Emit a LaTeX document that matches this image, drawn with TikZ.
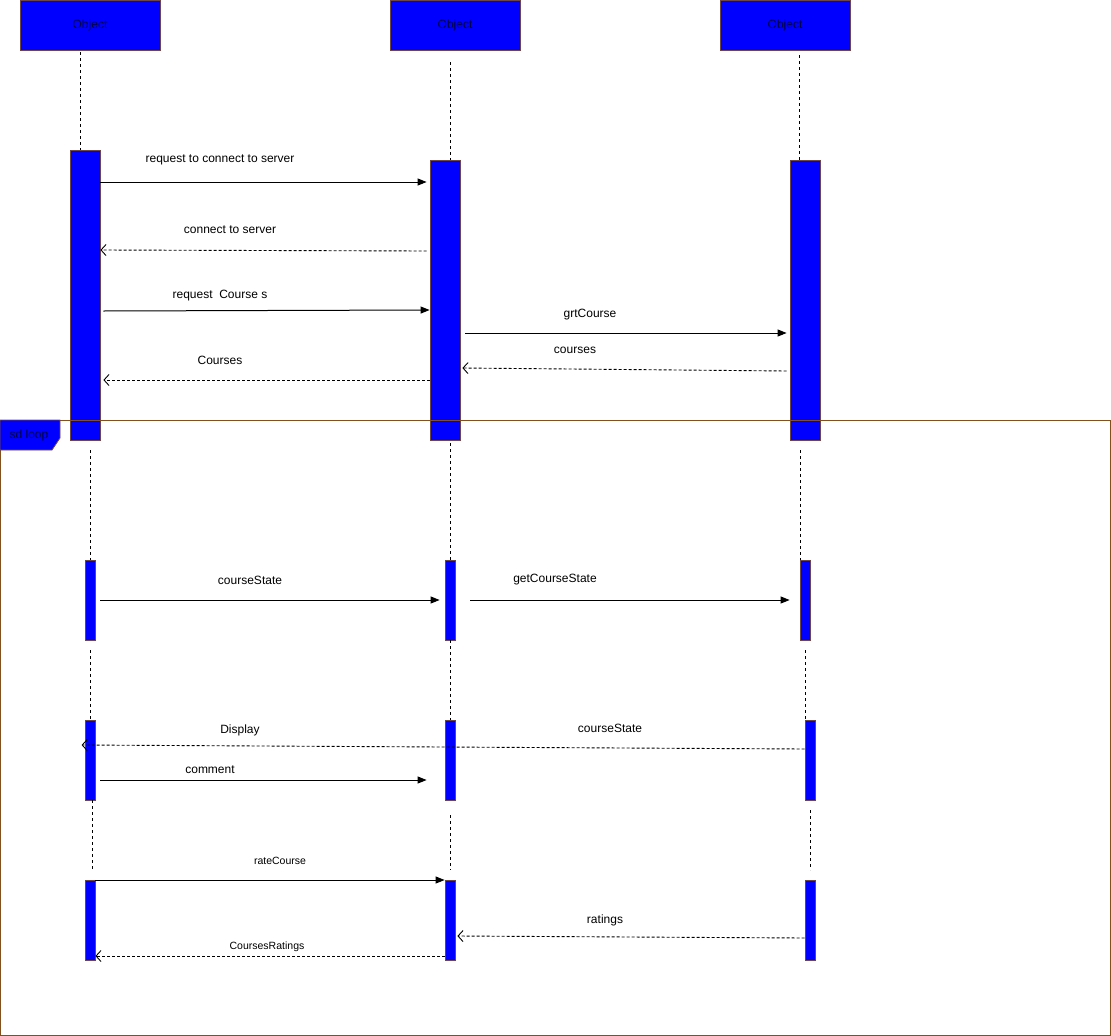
\documentclass[tikz,border=0pt]{standalone}
\usepackage{fontspec}
\setmainfont{Liberation Sans}
\usetikzlibrary{arrows.meta}
\definecolor{objblue}{RGB}{0,0,255}
\definecolor{objedge}{RGB}{110,70,70}
\definecolor{frameedge}{RGB}{130,80,30}
\definecolor{objtext}{RGB}{0,0,70}
\tikzset{
  obj/.style={draw=objedge, fill=objblue, line width=0.8pt, text=objtext, font=\fontsize{12}{14}\selectfont, inner sep=0pt},
  bar/.style={draw=objedge, fill=objblue, line width=0.8pt, inner sep=0pt},
  life/.style={line width=0.9pt, dash pattern=on 3pt off 3pt},
  call/.style={line width=1pt, -{Triangle[length=9pt,width=7pt]}},
  reply/.style={line width=0.9pt, dash pattern=on 3pt off 2pt, -{Straight Barb[length=5pt,width=11pt]}},
  lbl/.style={font=\fontsize{12}{14}\selectfont, inner sep=0pt},
  slbl/.style={font=\fontsize{10.5}{12}\selectfont, inner sep=0pt},
}
\begin{document}
\begin{tikzpicture}[x=1pt,y=-1pt]
\useasboundingbox (0,0) rectangle (1111,1036);

% object heads
\node[obj, minimum width=140pt, minimum height=50pt] (o1) at (90,25) {Object};
\node[obj, minimum width=130pt, minimum height=50pt] (o2) at (455,25) {Object};
\node[obj, minimum width=130pt, minimum height=50pt] (o3) at (785,25) {Object};

% upper activation bars
\node[bar, minimum width=30pt, minimum height=290pt] (a1) at (85,295) {};
\node[bar, minimum width=30pt, minimum height=280pt] (a2) at (445,300) {};
\node[bar, minimum width=30pt, minimum height=280pt] (a3) at (805,300) {};

% lifelines above the bars
\coordinate (l1t) at (80,52);
\coordinate (l2t) at (450,62);
\coordinate (l3t) at (799,55);
\draw[life] (l1t) -- (l1t |- a1.north);
\draw[life] (l2t) -- (l2t |- a2.north);
\draw[life] (l3t) -- (l3t |- a3.north);

% loop frame
\draw[frameedge, line width=0.8pt] (0,420) rectangle (1110,1035);
\draw[frameedge, fill=objblue, line width=0.8pt] (0,420) -- (60,420) -- (60,438) -- (52,450) -- (0,450) -- cycle;
\node[lbl, text=objtext] (sd) at (29,435) {sd loop};

% lower activation bars
\node[bar, minimum width=10pt, minimum height=80pt] (b1) at (90,600) {};
\node[bar, minimum width=10pt, minimum height=80pt] (b2) at (450,600) {};
\node[bar, minimum width=10pt, minimum height=80pt] (b3) at (805,600) {};
\node[bar, minimum width=10pt, minimum height=80pt] (c1) at (90,760) {};
\node[bar, minimum width=10pt, minimum height=80pt] (c2) at (450,760) {};
\node[bar, minimum width=10pt, minimum height=80pt] (c3) at (810,760) {};
\node[bar, minimum width=10pt, minimum height=80pt] (d1) at (90,920) {};
\node[bar, minimum width=10pt, minimum height=80pt] (d2) at (450,920) {};
\node[bar, minimum width=10pt, minimum height=80pt] (d3) at (810,920) {};

% lifeline segments between the bars
\draw[life] (90,450) -- (b1.north);
\draw[life] (450,443) -- (b2.north);
\draw[life] (800,450) -- (800,560);
\draw[life] (90,650) -- (c1.north);
\draw[life] (450,640) -- (c2.north);
\draw[life] (805,650) -- (805,720);
\draw[life] (92,800) -- (92,870);
\draw[life] (450,815) -- (450,870);
\draw[life] (810,810) -- (810,870);

% messages before the loop
\draw[call]  (a1.east |- 0,182) -- ([xshift=-3pt]a2.west |- 0,182);
\node[lbl] (m1) at (220,160) {request to connect to server};
\draw[reply] ([xshift=-3pt]a2.west |- 0,251) -- (a1.east |- 0,250);
\node[lbl] (m2) at (230,230) {connect to server};
\draw[call]  ([xshift=3pt]a1.east |- 0,311) -- (a2.west |- 0,310);
\node[lbl] (m3) at (220,296) {request\ \ Course s};
\draw[call]  ([xshift=5pt]a2.east |- 0,333) -- ([xshift=-3pt]a3.west |- 0,333);
\node[lbl] (m4) at (590,315) {grtCourse};
\draw[reply] ([xshift=-3pt]a3.west |- 0,371) -- ([xshift=2pt]a2.east |- 0,368);
\node[lbl] (m5) at (575,350) {courses};
\draw[reply] (a2.west |- 0,380) -- ([xshift=3pt]a1.east |- 0,380);
\node[lbl] (m6) at (220,360) {Courses};

% messages inside the loop
\draw[call]  ([xshift=5pt]b1.east |- 0,600) -- ([xshift=-5pt]b2.west |- 0,600);
\node[lbl] (m7) at (250,580) {courseState};
\draw[call]  ([xshift=15pt]b2.east |- 0,600) -- ([xshift=-10pt]b3.west |- 0,600);
\node[lbl] (m8) at (555,580) {getCourseState};
\draw[reply] (c3.west |- 0,749) -- ([xshift=-3pt]c1.west |- 0,745);
\node[lbl] (m9) at (240,730) {Display};
\node[lbl] (m10) at (610,728) {courseState};
\draw[call]  ([xshift=5pt]c1.east |- 0,780) -- ([xshift=-18pt]c2.west |- 0,780);
\node[lbl] (m11) at (210,770) {comment};
\draw[call]  (d1.east |- 0,880) -- (d2.west |- 0,880);
\node[slbl] (m12) at (280,861) {rateCourse};
\draw[reply] (d3.west |- 0,938) -- ([xshift=2pt]d2.east |- 0,936);
\node[lbl] (m13) at (605,920) {ratings};
\draw[reply] (d2.west |- 0,956) -- (d1.east |- 0,956);
\node[slbl] (m14) at (267,947) {CoursesRatings};
\end{tikzpicture}
\end{document}
